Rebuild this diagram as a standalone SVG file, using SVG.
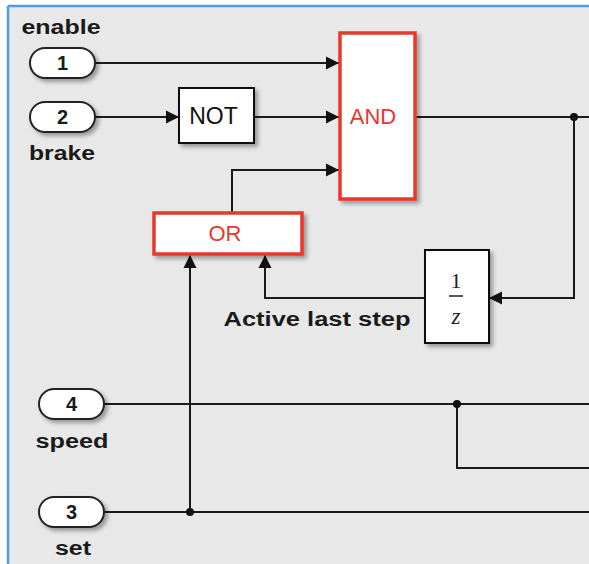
<svg xmlns="http://www.w3.org/2000/svg" width="589" height="564" viewBox="0 0 589 564">
  <defs>
    <filter id="sh" x="-20%" y="-20%" width="150%" height="150%">
      <feDropShadow dx="3" dy="3" stdDeviation="2" flood-color="#000" flood-opacity="0.35"/>
    </filter>
    <marker id="arr" markerUnits="userSpaceOnUse" markerWidth="14" markerHeight="14" viewBox="0 0 14 14" refX="13" refY="7" orient="auto">
      <path d="M0,0.5 L13,7 L0,13.5 Z" fill="#111"/>
    </marker>
  </defs>
  <style>
    .wire { fill: none; stroke: #1a1a1a; stroke-width: 2; }
    .blk { fill: #fff; stroke: #111; stroke-width: 2; filter: url(#sh); }
    .red { fill: #fff; stroke: #e8372b; stroke-width: 3.5; filter: url(#sh); }
    .pill { fill: #fff; stroke: #222; stroke-width: 2; filter: url(#sh); }
    .lbl { font-family: "Liberation Sans", Arial, sans-serif; font-weight: bold; font-size: 20px; fill: #1a1a1a; text-anchor: middle; }
    .num { font-family: "Liberation Sans", Arial, sans-serif; font-weight: bold; font-size: 20px; fill: #1a1a1a; text-anchor: middle; dominant-baseline: central; }
    .txt { font-family: "Liberation Sans", Arial, sans-serif; font-size: 23px; fill: #111; text-anchor: middle; dominant-baseline: central; }
    .rtxt { font-family: "Liberation Sans", Arial, sans-serif; font-size: 22px; fill: #e8372b; text-anchor: middle; dominant-baseline: central; }
    .dot { fill: #111; }
  </style>

  <rect x="0" y="0" width="589" height="564" fill="#ffffff"/>
  <rect x="8" y="6" width="581" height="558" fill="#e8e8e8"/>
  <line x1="8" y1="6" x2="589" y2="6" stroke="#4a9fe3" stroke-width="2.5"/>
  <line x1="8" y1="6" x2="8" y2="564" stroke="#4a9fe3" stroke-width="2.5"/>

  <g id="connectors">
    <path class="wire" d="M95,63 H339" marker-end="url(#arr)"/>
    <path class="wire" d="M95,117 H179" marker-end="url(#arr)"/>
    <path class="wire" d="M254,117 H339" marker-end="url(#arr)"/>
    <path class="wire" d="M232,212 V170 H339" marker-end="url(#arr)"/>
    <path class="wire" d="M416,117 H589"/>
    <path class="wire" d="M574,117 V298 H489" marker-end="url(#arr)"/>
    <path class="wire" d="M425,298 H265 V255" marker-end="url(#arr)"/>
    <path class="wire" d="M104,404 H589"/>
    <path class="wire" d="M457,404 V468 H589"/>
    <path class="wire" d="M104,512 H589"/>
    <path class="wire" d="M190,512 V255" marker-end="url(#arr)"/>
    <circle class="dot" cx="574" cy="117" r="4"/>
    <circle class="dot" cx="457" cy="404" r="4"/>
    <circle class="dot" cx="190" cy="512" r="4"/>
  </g>

  <g id="in1">
    <rect class="pill" x="30" y="48" width="65" height="30" rx="15"/>
    <text class="num" x="62.5" y="63">1</text>
    <text class="lbl" x="61" y="34" textLength="79" lengthAdjust="spacingAndGlyphs">enable</text>
  </g>
  <g id="in2">
    <rect class="pill" x="30" y="102" width="65" height="30" rx="15"/>
    <text class="num" x="62.5" y="117">2</text>
    <text class="lbl" x="62" y="160" textLength="66" lengthAdjust="spacingAndGlyphs">brake</text>
  </g>
  <g id="in4">
    <rect class="pill" x="39" y="389" width="65" height="30" rx="15"/>
    <text class="num" x="71.5" y="404">4</text>
    <text class="lbl" x="72" y="448" textLength="73" lengthAdjust="spacingAndGlyphs">speed</text>
  </g>
  <g id="in3">
    <rect class="pill" x="39" y="497" width="65" height="30" rx="15"/>
    <text class="num" x="71.5" y="512">3</text>
    <text class="lbl" x="73" y="555" textLength="36" lengthAdjust="spacingAndGlyphs">set</text>
  </g>

  <g id="not">
    <rect class="blk" x="179" y="88" width="75" height="55"/>
    <text class="txt" x="213.5" y="116">NOT</text>
  </g>
  <g id="and">
    <rect class="red" x="340" y="33" width="75" height="166"/>
    <text class="rtxt" x="373" y="116">AND</text>
  </g>
  <g id="or">
    <rect class="red" x="154" y="213" width="148" height="41"/>
    <text class="rtxt" x="225" y="233">OR</text>
  </g>
  <g id="delay">
    <rect class="blk" x="425" y="250" width="64" height="93"/>
    <text x="456" y="288" font-family="Liberation Serif, Times New Roman, serif" font-size="22" fill="#222" text-anchor="middle">1</text>
    <line x1="449" y1="296" x2="463" y2="296" stroke="#222" stroke-width="1.5"/>
    <text x="456" y="324" font-family="Liberation Serif, Times New Roman, serif" font-size="23" font-style="italic" fill="#222" text-anchor="middle">z</text>
  </g>
  <g id="label-active">
    <text class="lbl" x="317" y="326" textLength="187" lengthAdjust="spacingAndGlyphs">Active last step</text>
  </g>
</svg>
